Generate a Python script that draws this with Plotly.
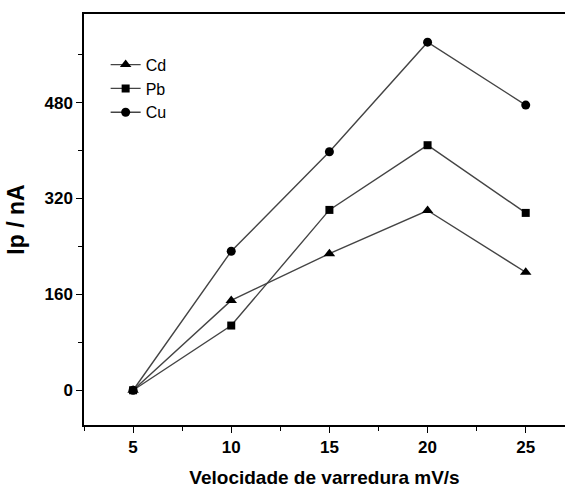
import plotly.graph_objects as go

# Scan rate (mV/s) and peak currents (nA) for each metal
scan_rate = [5, 10, 15, 20, 25]
cd_current = [0, 150, 228, 300, 197]
pb_current = [0, 108, 301, 409, 296]
cu_current = [0, 232, 398, 581, 476]

series = [
    ("Cd", cd_current, "triangle-up", 10),
    ("Pb", pb_current, "square", 8),
    ("Cu", cu_current, "circle", 9),
]

FONT = "Liberation Sans, Arial, sans-serif"

fig = go.Figure()
for name, values, symbol, size in series:
    fig.add_trace(go.Scatter(
        x=scan_rate, y=values, name=name, mode="lines+markers",
        line=dict(color="#444444", width=1.4),
        marker=dict(symbol=symbol, size=size, color="black"),
    ))

fig.update_layout(
    width=565, height=496,
    margin=dict(l=84, r=0, t=14, b=71),
    plot_bgcolor="white", paper_bgcolor="white",
    showlegend=True,
    legend=dict(x=0.045, y=0.918, xanchor="left", yanchor="top",
                bgcolor="rgba(0,0,0,0)",
                font=dict(family=FONT, size=16, color="black"),
                itemwidth=30),
    font=dict(family=FONT, color="black"),
)

fig.update_xaxes(
    range=[2.5, 27], tickvals=scan_rate, ticktext=[str(v) for v in scan_rate],
    showgrid=False, zeroline=False,
    showline=True, linecolor="black", linewidth=1.5, mirror=True,
    ticks="outside", ticklen=6, tickwidth=1.2, tickcolor="black",
    minor=dict(tickvals=[2.5, 7.5, 12.5, 17.5, 22.5], ticks="outside",
               ticklen=4, tickcolor="black", tickwidth=1.2),
    tickfont=dict(family=FONT, size=17, color="black", weight="bold"),
    title=dict(text="<b>Velocidade de varredura mV/s</b>",
               font=dict(family=FONT, size=19, color="black"),
               standoff=15),
)

fig.update_yaxes(
    range=[-58, 628], tickvals=[0, 160, 320, 480],
    showgrid=False, zeroline=False,
    showline=True, linecolor="black", linewidth=1.5, mirror=False,
    ticks="outside", ticklen=6, tickwidth=1.2, tickcolor="black",
    minor=dict(tickvals=[80, 240, 400, 560], ticks="outside",
               ticklen=4, tickcolor="black", tickwidth=1.2),
    tickfont=dict(family=FONT, size=17, color="black", weight="bold"),
    title=dict(text="<b>Ip / nA</b>",
               font=dict(family=FONT, size=23, color="black"),
               standoff=13),
)

fig.write_html("out.html")
